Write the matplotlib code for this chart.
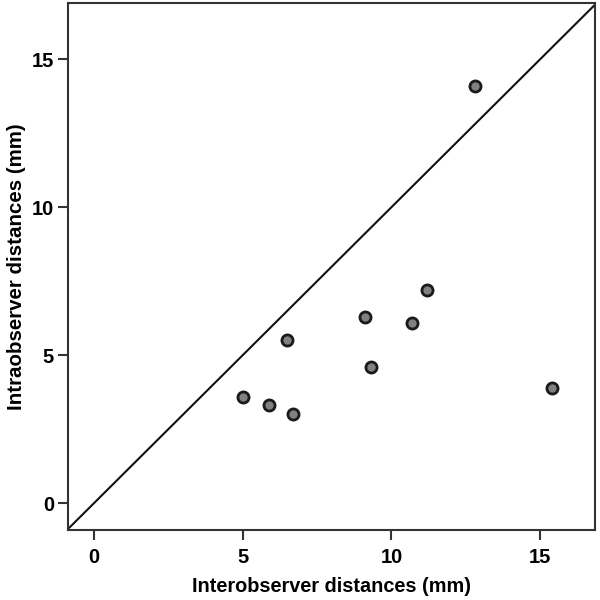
import matplotlib
matplotlib.use("Agg")
import matplotlib.pyplot as plt

plt.rcParams['font.family'] = ['Liberation Sans', 'DejaVu Sans']

# values
inter = [5.0, 5.9, 6.5, 6.7, 9.1, 9.3, 10.7, 11.2, 12.8, 15.4]
intra = [3.6, 3.3, 5.5, 3.0, 6.3, 4.6, 6.1, 7.2, 14.1, 3.9]
ticks = [0, 5, 10, 15]
lims = [-0.88, 16.85]

fig = plt.figure(figsize=(6, 6), dpi=100)
ax = fig.add_axes([0.113, 0.117, 0.879, 0.878])

# identity line corner to corner
ax.plot(lims, lims, color='#111111', lw=1.5, zorder=1)
ax.plot(inter, intra, 'o', ms=8, mfc='#808080', mec='#1a1a1a', mew=2.0, zorder=3)

ax.set_xlim(lims)
ax.set_ylim(-0.9, 16.9)
ax.set_xticks(ticks)
ax.set_yticks(ticks)
ax.tick_params(direction='out', length=7, width=1.5, color='#333333',
               labelsize=14.5)
ax.tick_params(axis='x', pad=6)
ax.tick_params(axis='y', pad=3)
for lab in ax.get_xticklabels() + ax.get_yticklabels():
    lab.set_fontweight('bold')
for sp in ax.spines.values():
    sp.set_linewidth(1.5)
    sp.set_color('#333333')

ax.set_xlabel('Interobserver distances (mm)', fontsize=14.3, fontweight='bold', labelpad=7)
ax.set_ylabel('Intraobserver distances (mm)', fontsize=14.8, fontweight='bold', labelpad=4)

fig.savefig('out.png', dpi=100)
